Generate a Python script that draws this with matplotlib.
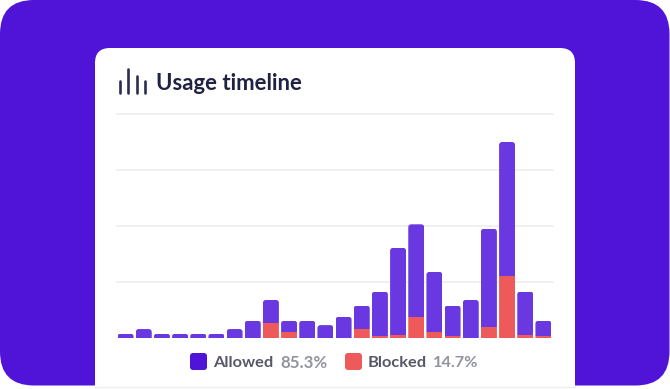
"""Usage timeline card: stacked allowed / blocked bars on a purple backdrop."""

import numpy as np
import matplotlib
matplotlib.use('Agg')
import matplotlib.pyplot as plt
from matplotlib.patches import FancyBboxPatch, Rectangle

plt.rcParams['font.family'] = ['Lato', 'DejaVu Sans']

# ── Data ──────────────────────────────────────────────────────────────────────
totals = [8, 16, 8, 8, 8, 8, 16, 31, 68, 31, 31, 23,
          38, 58, 83, 161, 203, 118, 58, 68, 195, 350, 83, 31]
blocked = [0, 0, 0, 0, 0, 0, 0, 0, 26, 11, 0, 0,
           0, 16, 3, 6, 38, 11, 4, 0, 20, 111, 6, 4]
grid_values = [100, 200, 300, 400]
legend_names = ['Allowed', 'Blocked']
legend_shares = ['85.3%', '14.7%']
title = 'Usage timeline'
icon_tops = [80.7, 69.3, 76, 80.7]

# ── Colours ───────────────────────────────────────────────────────────────────
BG = '#4f14d8'
BAR = '#6a38e0'
RED = '#ee5a5a'
INK = '#1f2240'
LABEL = '#565868'
MUTED = '#92949f'
GRID = '#ececf0'

W, H = 670, 389
BOTTOM = 385.5
fig = plt.figure(figsize=(W / 100, H / 100), dpi=100, facecolor='white')

# pixel-space layer for backdrop, card, icon and legend
bg = fig.add_axes([0, 0, 1, 1])
bg.set_xlim(0, W)
bg.set_ylim(H, 0)
bg.axis('off')
bg.add_patch(FancyBboxPatch((0, 0), W - 0.5, BOTTOM, boxstyle='round,pad=0,rounding_size=34',
                            fc=BG, ec='none'))
bg.add_patch(FancyBboxPatch((95, 48), 480, 338 + 40, boxstyle='round,pad=0,rounding_size=15',
                            fc='white', ec='none'))
bg.add_patch(Rectangle((0, BOTTOM), W, H - BOTTOM, fc='white', ec='none', zorder=2))
bg.plot([95, 575], [386.5, 386.5], color='#eeeef2', lw=1, zorder=3)

# icon
for x, top in zip([120, 128.3, 136.7, 145], icon_tops):
    bg.plot([x, x], [top, 93.3], color='#2b2d52', lw=1.9, solid_capstyle='round')

bg.text(156.5, 83.5, title, fontsize=15.9, fontweight='bold', color=INK, va='center')

# legend
for x, c in zip([190, 345], [BG, RED]):
    bg.add_patch(FancyBboxPatch((x, 353), 17, 17, boxstyle='round,pad=0,rounding_size=3',
                                fc=c, ec='none'))
bg.text(213, 363, legend_names[0], fontsize=11.8, fontweight='bold', color=LABEL, va='center')
bg.text(280.5, 363, legend_shares[0], fontsize=12.2, fontweight='bold', color=MUTED, va='center')
bg.text(368, 363, legend_names[1], fontsize=11.8, fontweight='bold', color=LABEL, va='center')
bg.text(433, 363, legend_shares[1], fontsize=11.8, fontweight='bold', color=MUTED, va='center')

# ── Chart ─────────────────────────────────────────────────────────────────────
# axes box runs x 116.5-552.5 px, baseline at y=338 px, 56 px per 100 units
left, right, base, top = 116.5, 552.5, 338, 114
ax = fig.add_axes([left / W, 1 - base / H, (right - left) / W, (base - top) / H])
ax.patch.set_alpha(0)
ax.set_xlim(-0.5, len(totals) - 0.5)
ax.set_ylim(0, 400)
for s in ax.spines.values():
    s.set_visible(False)
ax.set_xticks([])
ax.set_yticks([])
ax.set_axisbelow(True)
for g in grid_values:
    ax.axhline(g, color=GRID, lw=1.1, zorder=0, clip_on=False)

x = np.arange(len(totals))
totals = np.array(totals)
blocked = np.array(blocked)
allowed_bars = ax.bar(x, totals - blocked, 0.88, bottom=blocked, color=BAR, zorder=2)
blocked_bars = ax.bar(x, blocked, 0.88, color=RED, zorder=3)

# round the top corners of each stack by clipping to a rounded box
x_px = (right - left) / len(totals)
y_px = (base - top) / 400
radius = 3 / x_px
aspect = (3 / y_px) / radius
for i, (a, b) in enumerate(zip(allowed_bars, blocked_bars)):
    clip = FancyBboxPatch((x[i] - 0.44, -30), 0.88, totals[i] + 30,
                          boxstyle=f'round,pad=0,rounding_size={radius}',
                          mutation_aspect=aspect, transform=ax.transData,
                          fc='none', ec='none')
    ax.add_patch(clip)
    a.set_clip_path(clip)
    b.set_clip_path(clip)

fig.savefig('out.png', dpi=100, facecolor='white')
